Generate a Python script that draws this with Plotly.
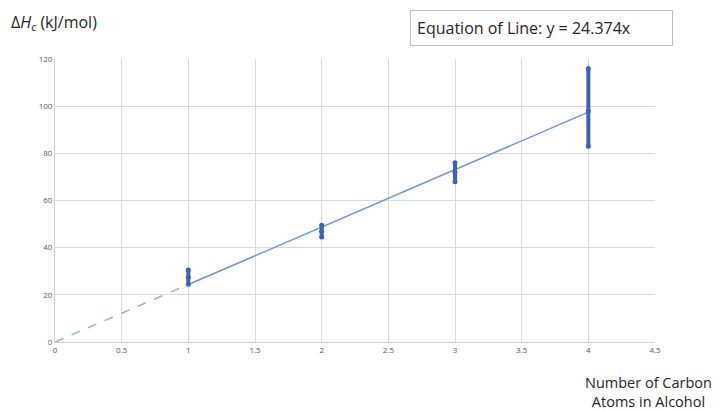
import plotly.graph_objects as go

carbons = [1, 2, 3, 4]
mean_dh = [27.5, 47.0, 72.0, 98.0]
max_dh = [30.5, 49.5, 76.0, 116.0]
min_dh = [24.5, 44.5, 68.0, 83.0]
slope = 24.374
x_ticks = [0, 0.5, 1, 1.5, 2, 2.5, 3, 3.5, 4, 4.5]
y_ticks = [0, 20, 40, 60, 80, 100, 120]

err_plus = [mx - m for mx, m in zip(max_dh, mean_dh)]
err_minus = [m - mn for mn, m in zip(min_dh, mean_dh)]

# page body has an 8px margin; compensate so the plot lands where the reference has it
OFF = 8
PL, PR, PT, PB = 55, 655, 59, 342  # plot box in window pixels
W, H = 721 - OFF, 410 - OFF
PW, PH = PR - PL, PB - PT

def px(x):
    return (x - PL) / PW

def py(y):
    return (PB - y) / PH

fig = go.Figure()
fig.add_trace(go.Scatter(x=[0, 1], y=[0, slope * 1], mode="lines",
                         line=dict(color="#8db3e2", width=1.5, dash="dash"),
                         showlegend=False, hoverinfo="skip"))
fig.add_trace(go.Scatter(x=[1, 4], y=[slope * 1, slope * 4], mode="lines",
                         line=dict(color="#6f98d6", width=1.5),
                         showlegend=False, hoverinfo="skip"))
fig.add_trace(go.Scatter(x=carbons, y=mean_dh, mode="markers",
                         marker=dict(color="#3c64ae", size=5),
                         error_y=dict(type="data", array=err_plus, arrayminus=err_minus,
                                      symmetric=False, color="#3c64ae", thickness=4, width=0),
                         showlegend=False))
fig.add_trace(go.Scatter(x=carbons + carbons, y=max_dh + min_dh, mode="markers",
                         marker=dict(color="#3c64ae", size=5),
                         showlegend=False))

fig.update_layout(
    width=W, height=H,
    margin=dict(l=PL - OFF, r=W - (PR - OFF), t=PT - OFF, b=H - (PB - OFF)),
    plot_bgcolor="white", paper_bgcolor="white",
    font=dict(family="Open Sans, Liberation Sans, sans-serif", color="#595959"),
    xaxis=dict(range=[0, 4.5], tickvals=x_ticks, ticktext=[str(t) for t in x_ticks],
               showgrid=True, gridcolor="#d9d9d9", gridwidth=1, zeroline=False,
               showline=True, linecolor="#d0d0d0", linewidth=1,
               tickfont=dict(size=8, color="#595959"), ticks="", ticklen=0),
    yaxis=dict(range=[0, 120], tickvals=y_ticks,
               showgrid=True, gridcolor="#d9d9d9", gridwidth=1, zeroline=False,
               showline=True, linecolor="#d0d0d0", linewidth=1,
               tickfont=dict(size=8, color="#595959"), ticks="", ticklen=0),
    annotations=[
        dict(text="Δ<i>H</i><sub><i>c</i></sub> (kJ/mol)", xref="paper", yref="paper",
             x=px(9), y=py(23), xanchor="left", yanchor="middle", showarrow=False,
             font=dict(size=16, color="#262626")),
        dict(text="Equation of Line: y = 24.374x", xref="paper", yref="paper",
             x=px(410), y=py(27.5), xanchor="left", yanchor="middle",
             showarrow=False, align="left", font=dict(size=16, color="#262626"),
             bordercolor="#bfbfbf", borderwidth=1, borderpad=6, width=249),
        dict(text="Number of Carbon<br>Atoms in Alcohol", xref="paper", yref="paper",
             x=px(648), y=py(392), xanchor="center", yanchor="middle",
             showarrow=False, align="center", font=dict(size=14.5, color="#262626")),
    ],
)

fig.write_html("out.html")
